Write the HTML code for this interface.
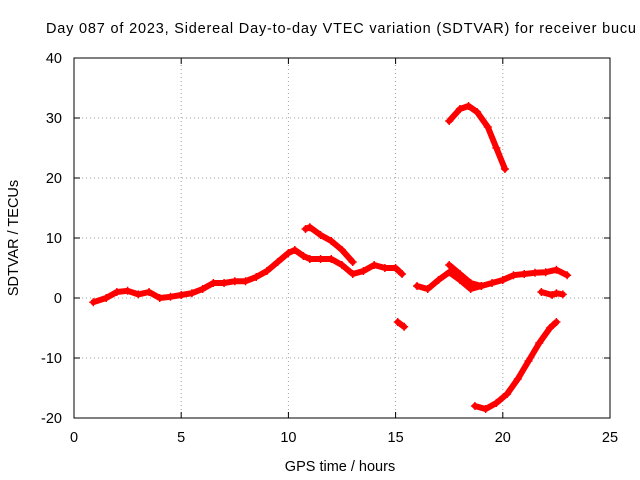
<!DOCTYPE html>
<html><head><meta charset="utf-8"><style>
body{margin:0;background:#fff;}
svg{display:block;font-family:"Liberation Sans",sans-serif;}
</style></head><body>
<svg id="chart" width="640" height="480" viewBox="0 0 640 480">
<text x="46" y="33" font-size="14.5" fill="#000" textLength="590" lengthAdjust="spacing">Day 087 of 2023, Sidereal Day-to-day VTEC variation (SDTVAR) for receiver bucu</text>
<g id="grid"></g>
<g id="ticks"></g>
<g id="series"></g>
<rect x="74" y="58" width="536" height="360" fill="none" stroke="#000" stroke-width="1"/>
<text x="340" y="471" font-size="14.5" text-anchor="middle">GPS time / hours</text>
<text transform="translate(18,238) rotate(-90)" font-size="14.5" text-anchor="middle">SDTVAR / TECUs</text>
</svg>
<script>
const xTicks=[0,5,10,15,20,25];
const yTicks=[-20,-10,0,10,20,30,40];
const segA=[[0.9,-0.7],[1.5,0],[2,1],[2.5,1.2],[3,0.6],[3.5,1],[4,0],[4.5,0.2],[5,0.5],[5.5,0.8],[6,1.5],[6.5,2.5],[7,2.5],[7.5,2.8],[8,2.8],[8.5,3.5],[9,4.5],[9.5,6],[10,7.5],[10.3,8],[10.7,7],[11,6.5],[11.5,6.5],[12,6.5],[12.5,5.5],[13,4],[13.5,4.5],[14,5.5],[14.5,5],[15,5],[15.3,4]];
const segB=[[10.8,11.5],[11,11.8],[11.5,10.5],[12,9.5],[12.5,8],[13,6]];
const segC=[[15.1,-4],[15.4,-4.8]];
const segD=[[16,2],[16.5,1.5],[17,3],[17.5,4.3],[18,3],[18.5,1.5],[19,2],[19.5,2.5],[20,3],[20.5,3.8],[21,4],[21.5,4.2],[22,4.3],[22.5,4.7],[23,3.8]];
const segD2=[[17.5,5.5],[18,4],[18.5,2.5],[19,2]];
const segE=[[21.8,1],[22.3,0.5],[22.5,0.8],[22.8,0.6]];
const segF=[[17.5,29.5],[18,31.5],[18.4,32],[18.8,31],[19.3,28.5],[19.7,25],[20.1,21.5]];
const segG=[[18.7,-18],[19.2,-18.5],[19.7,-17.5],[20.2,-16],[20.7,-13.5],[21.2,-10.5],[21.7,-7.5],[22.2,-5],[22.5,-4]];
const segments=[segA,segB,segC,segD,segD2,segE,segF,segG];
const X0=74,X1=610,Y0=418,Y1=58,XMIN=0,XMAX=25,YMIN=-20,YMAX=40;
const sx=v=>X0+(v-XMIN)/(XMAX-XMIN)*(X1-X0);
const sy=v=>Y0-(v-YMIN)/(YMAX-YMIN)*(Y0-Y1);
const NS="http://www.w3.org/2000/svg";
const grid=document.getElementById('grid'),ticks=document.getElementById('ticks'),series=document.getElementById('series');
function mk(tag,attrs,parent){const e=document.createElementNS(NS,tag);for(const k in attrs)e.setAttribute(k,attrs[k]);parent.appendChild(e);return e;}
xTicks.forEach(t=>{const x=sx(t);
 if(t>XMIN&&t<XMAX){const l=mk('line',{x1:x,x2:x,y1:Y0,y2:Y1,stroke:'#a0a0a0','stroke-dasharray':'1,3'},grid);
 
 }
 mk('line',{x1:x,x2:x,y1:Y0,y2:Y0-6,stroke:'#000'},ticks);
 mk('line',{x1:x,x2:x,y1:Y1,y2:Y1+6,stroke:'#000'},ticks);
 const tx=mk('text',{x:x,y:Y0+24,'font-size':'14.5','text-anchor':'middle'},ticks);tx.textContent=t;
 
 });
yTicks.forEach(t=>{const y=sy(t);
 if(t>YMIN&&t<YMAX){const l=mk('line',{x1:X0,x2:X1,y1:y,y2:y,stroke:'#a0a0a0','stroke-dasharray':'1,3'},grid);
 
 }
 mk('line',{x1:X0,x2:X0+6,y1:y,y2:y,stroke:'#000'},ticks);
 mk('line',{x1:X1,x2:X1-6,y1:y,y2:y,stroke:'#000'},ticks);
 const tx=mk('text',{x:X0-12,y:y+5,'font-size':'14.5','text-anchor':'end'},ticks);tx.textContent=t;
 
 });
segments.forEach(seg=>{
 const p=mk('polyline',{points:seg.map(d=>sx(d[0])+','+sy(d[1])).join(' '),fill:'none',stroke:'#ff0000','stroke-width':6,'stroke-linejoin':'round','stroke-linecap':'round'},series);
 
 
 seg.forEach(d=>{const x=sx(d[0]),y=sy(d[1]);
  const c=mk('path',{d:`M${x-4},${y}H${x+4}M${x},${y-4}V${y+4}`,stroke:'#ff0000','stroke-width':1.5},series);
  
  });
});
</script>
</body></html>
